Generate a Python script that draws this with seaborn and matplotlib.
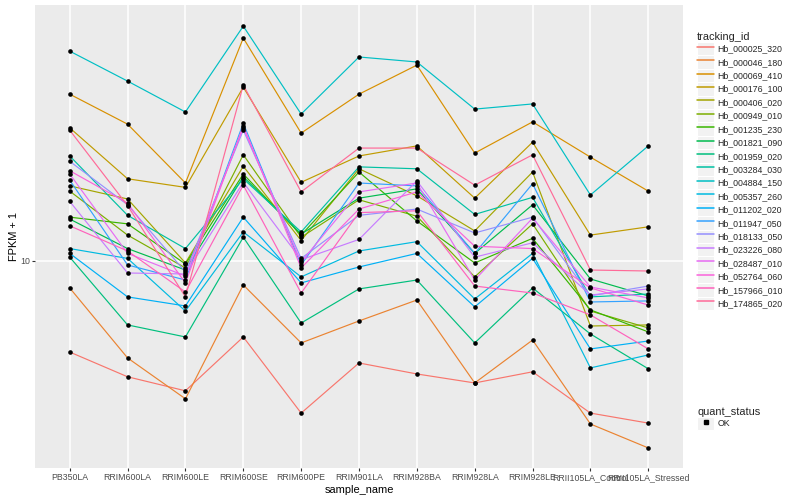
import numpy as np
import pandas as pd
import matplotlib
matplotlib.use('Agg')
import matplotlib.pyplot as plt
import seaborn as sns
from matplotlib.lines import Line2D
from matplotlib.patches import Rectangle
from matplotlib.legend_handler import HandlerLine2D
from matplotlib.ticker import NullLocator

samples = ['PB350LA', 'RRIM600LA', 'RRIM600LE', 'RRIM600SE', 'RRIM600PE',
           'RRIM901LA', 'RRIM928BA', 'RRIM928LA', 'RRIM928LE',
           'RRII105LA_Control', 'RRII105LA_Stressed']

tracking_ids = ['Hb_000025_320', 'Hb_000046_180', 'Hb_000069_410', 'Hb_000176_100',
                'Hb_000406_020', 'Hb_000949_010', 'Hb_001235_230', 'Hb_001821_090',
                'Hb_001959_020', 'Hb_003284_030', 'Hb_004884_150', 'Hb_005357_260',
                'Hb_011202_020', 'Hb_011947_050', 'Hb_018133_050', 'Hb_023226_080',
                'Hb_028487_010', 'Hb_052764_060', 'Hb_157966_010', 'Hb_174865_020']

# FPKM + 1, one list per gene, in sample order
hb_000025_320 = [4.97, 4.11, 3.69, 5.58, 3.11, 4.57, 4.20, 3.92, 4.27, 3.11, 2.88]
hb_000046_180 = [8.13, 4.75, 3.47, 8.32, 5.33, 6.31, 7.41, 3.92, 5.45, 2.86, 2.38]
hb_000069_410 = [36.0, 28.6, 18.2, 55.4, 26.7, 36.0, 45.0, 22.9, 29.1, 22.2, 17.1]
hb_000176_100 = [27.8, 18.8, 17.6, 38.0, 18.3, 22.4, 24.2, 16.2, 24.9, 12.2, 13.0]
hb_000406_020 = [17.8, 16.1, 9.85, 20.7, 11.7, 20.3, 16.5, 12.6, 19.8, 6.07, 6.12]
hb_000949_010 = [17.1, 12.2, 9.48, 22.6, 12.0, 16.0, 14.1, 8.85, 13.3, 6.81, 5.98]
hb_001235_230 = [14.0, 13.3, 9.77, 19.5, 12.2, 19.8, 13.6, 9.85, 11.9, 6.87, 5.80]
hb_001821_090 = [13.8, 11.0, 9.33, 19.1, 12.3, 16.2, 17.4, 10.6, 15.4, 8.71, 7.65]
hb_001959_020 = [10.3, 6.12, 5.58, 12.0, 6.21, 8.07, 8.64, 5.33, 8.13, 5.71, 4.37]
hb_003284_030 = [22.4, 14.2, 11.0, 18.8, 12.5, 20.6, 20.3, 14.3, 16.3, 7.59, 7.76]
hb_004884_150 = [50.1, 39.8, 31.4, 60.7, 30.9, 47.9, 46.1, 32.1, 33.4, 16.6, 24.2]
hb_005357_260 = [11.0, 10.2, 6.81, 12.5, 8.85, 10.8, 11.6, 7.47, 10.6, 4.40, 4.86]
hb_011202_020 = [10.6, 7.59, 7.08, 14.0, 8.45, 9.55, 10.6, 7.03, 10.2, 5.09, 5.41]
hb_011947_050 = [18.6, 9.70, 8.64, 28.8, 9.70, 18.2, 17.8, 10.6, 18.1, 7.30, 7.36]
hb_018133_050 = [21.5, 15.4, 9.19, 27.3, 10.2, 14.2, 14.9, 12.4, 14.0, 7.65, 8.25]
hb_023226_080 = [15.8, 9.12, 9.05, 18.3, 10.1, 11.8, 18.5, 10.3, 11.5, 7.70, 8.07]
hb_028487_010 = [19.5, 10.6, 8.91, 27.8, 9.92, 17.0, 18.2, 8.64, 13.9, 8.19, 7.53]
hb_052764_060 = [20.0, 15.6, 8.45, 28.2, 9.48, 14.9, 17.0, 11.2, 11.0, 8.13, 7.13]
hb_157966_010 = [13.1, 10.8, 7.88, 17.9, 7.82, 14.5, 14.7, 8.25, 7.82, 6.61, 5.09]
hb_174865_020 = [27.3, 15.3, 7.59, 38.6, 17.0, 23.8, 23.8, 17.9, 22.6, 9.33, 9.26]

series = [hb_000025_320, hb_000046_180, hb_000069_410, hb_000176_100, hb_000406_020,
          hb_000949_010, hb_001235_230, hb_001821_090, hb_001959_020, hb_003284_030,
          hb_004884_150, hb_005357_260, hb_011202_020, hb_011947_050, hb_018133_050,
          hb_023226_080, hb_028487_010, hb_052764_060, hb_157966_010, hb_174865_020]


def hcl_hex(h, c=100.0, l=65.0):
    # ggplot-style hue colour: polar LUV -> sRGB
    xn, yn, zn = 95.047, 100.0, 108.883
    un = 4 * xn / (xn + 15 * yn + 3 * zn)
    vn = 9 * yn / (xn + 15 * yn + 3 * zn)
    u_ = c * np.cos(np.radians(h))
    v_ = c * np.sin(np.radians(h))
    y = yn * ((l + 16) / 116) ** 3
    u = u_ / (13 * l) + un
    v = v_ / (13 * l) + vn
    x = 9 * y * u / (4 * v)
    z = -x / 3 - 5 * y + 3 * y / v
    x, y, z = x / 100, y / 100, z / 100
    rgb = [3.240479 * x - 1.537150 * y - 0.498535 * z,
           -0.969256 * x + 1.875992 * y + 0.041556 * z,
           0.055648 * x - 0.204043 * y + 1.057311 * z]
    out = []
    for ch in rgb:
        ch = 12.92 * ch if ch <= 0.0031308 else 1.055 * ch ** (1 / 2.4) - 0.055
        out.append(min(max(ch, 0.0), 1.0))
    return matplotlib.colors.to_hex(out)


hues = np.linspace(15, 375, len(tracking_ids) + 1)[:-1]
palette = {tid: hcl_hex(h) for tid, h in zip(tracking_ids, hues)}

rows = []
for tid, vals in zip(tracking_ids, series):
    for s, v in zip(samples, vals):
        rows.append({'tracking_id': tid, 'sample_name': s, 'fpkm': v})
df = pd.DataFrame(rows)
df['x'] = df['sample_name'].map({s: i for i, s in enumerate(samples)})

sns.set_theme(style='darkgrid', rc={'axes.facecolor': '#EBEBEB',
                                    'grid.color': 'white'})
plt.rcParams['font.family'] = ['Liberation Sans', 'DejaVu Sans']

fig = plt.figure(figsize=(8, 5), dpi=100)
ax = fig.add_axes([35 / 800, 1 - 468 / 500, 648 / 800, 463 / 500])

sns.lineplot(data=df, x='x', y='fpkm', hue='tracking_id', hue_order=tracking_ids,
             palette=palette, sort=False, legend=False, linewidth=0.85, ax=ax)
sns.scatterplot(data=df, x='x', y='fpkm', color='black', marker='o', s=11,
                linewidth=0, legend=False, zorder=5, ax=ax)

ax.set_yscale('log')
ax.set_ylim(2.04, 71.4)
ax.set_xlim(-0.6, len(samples) - 0.4)
ax.set_yticks([10])
ax.set_yticklabels(['10'])
ax.yaxis.set_minor_locator(NullLocator())
ax.set_xticks(range(len(samples)))
ax.set_xticklabels(samples)
ax.grid(True, which='major', color='white', linewidth=1.1)
for sp in ax.spines.values():
    sp.set_visible(False)
ax.tick_params(axis='both', which='major', length=2, width=0.8, color='#333333',
               labelcolor='#4D4D4D', labelsize=6.3, pad=1.5,
               bottom=True, left=True)
ax.set_xlabel('sample_name', fontsize=7.9, color='black', labelpad=2)
ax.set_ylabel('FPKM + 1', fontsize=7.9, color='black', labelpad=1)


class KeyHandler(HandlerLine2D):
    def create_artists(self, legend, orig_handle, xdescent, ydescent, width,
                       height, fontsize, trans):
        bg = Rectangle((-xdescent, -ydescent), width, height, facecolor='#F2F2F2',
                       edgecolor='white', linewidth=0.8, transform=trans)
        arts = super().create_artists(legend, orig_handle, xdescent, ydescent,
                                      width, height, fontsize, trans)
        return [bg] + list(arts)


leg_kw = dict(loc='upper left', frameon=False, fontsize=6.3, title_fontsize=7.9,
              handlelength=1.95, handleheight=1.98, labelspacing=0,
              handletextpad=0.4, borderpad=0, borderaxespad=0, numpoints=1,
              alignment='left', handler_map={Line2D: KeyHandler()})

line_handles = [Line2D([], [], color=palette[t], linewidth=1.1) for t in tracking_ids]
fig.legend(line_handles, tracking_ids, title='tracking_id',
           bbox_to_anchor=(697 / 800, 1 - 32 / 500), **leg_kw)

ok_handle = [Line2D([], [], color='black', marker='s', markersize=2.6, linestyle='None')]
fig.legend(ok_handle, ['OK'], title='quant_status',
           bbox_to_anchor=(697 / 800, 1 - 407 / 500), **leg_kw)

fig.savefig('out.png', dpi=100)
